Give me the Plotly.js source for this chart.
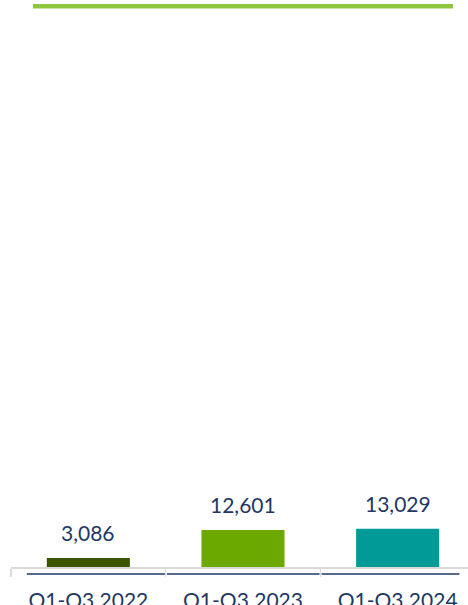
<!DOCTYPE html>
<html>
<head>
<meta charset="utf-8">
<script src="https://cdn.plot.ly/plotly-3.0.1.min.js"></script>
<style>html,body{margin:0;padding:0;background:#fff;}#chart{width:468px;height:605px;}</style>
</head>
<body>
<div id="chart"></div>
<script>
var categories = ["Q1-Q3 2022", "Q1-Q3 2023", "Q1-Q3 2024"];
var values = [3086, 12601, 13029];
var barColors = ["#3A5500", "#6BA800", "#009A97"];

var navy = "#1F3864";
var font = "Lato, 'Open Sans', sans-serif";

var trace = {
  type: "bar",
  x: categories,
  y: values,
  width: 0.537,
  marker: {color: barColors, line: {width: 0}},
  hoverinfo: "skip"
};

var annotations = values.map(function (v, i) {
  return {
    x: categories[i], y: v, xref: "x", yref: "y",
    text: v.toLocaleString("en-US"),
    showarrow: false, yanchor: "bottom", yshift: 11,
    font: {family: font, size: 21, color: navy}
  };
});

var shapes = [
  {type: "line", xref: "paper", yref: "paper", x0: 0.048, x1: 0.967, y0: 0.989, y1: 0.989,
   line: {color: "#8DC63F", width: 4.5}}
];
categories.forEach(function (c, i) {
  shapes.push({type: "line", xref: "x", yref: "paper",
    x0: i === 0 ? i - 0.398 : i - 0.492, x1: i === 2 ? i + 0.40 : i + 0.495,
    y0: -0.0123, y1: -0.0123, line: {color: navy, width: 1.5}, layer: "below"});
});

var layout = {
  width: 468, height: 605,
  margin: {l: 11, r: 0, t: 0, b: 38},
  paper_bgcolor: "#fff", plot_bgcolor: "#fff",
  showlegend: false,
  xaxis: {
    type: "category",
    range: [-0.5, 2.455],
    tickson: "boundaries",
    showline: true, linecolor: "#D9D9D9", linewidth: 2,
    ticks: "outside", ticklen: 8, tickwidth: 1.5, tickcolor: "#D9D9D9",
    showgrid: false, zeroline: false, fixedrange: true,
    tickfont: {family: font, size: 21, color: navy},
    ticklabelstandoff: 14
  },
  yaxis: {range: [0, 193000], visible: false, showgrid: false, zeroline: false},
  annotations: annotations,
  shapes: shapes
};

Plotly.newPlot("chart", [trace], layout, {staticPlot: true, displayModeBar: false});
</script>
</body>
</html>
